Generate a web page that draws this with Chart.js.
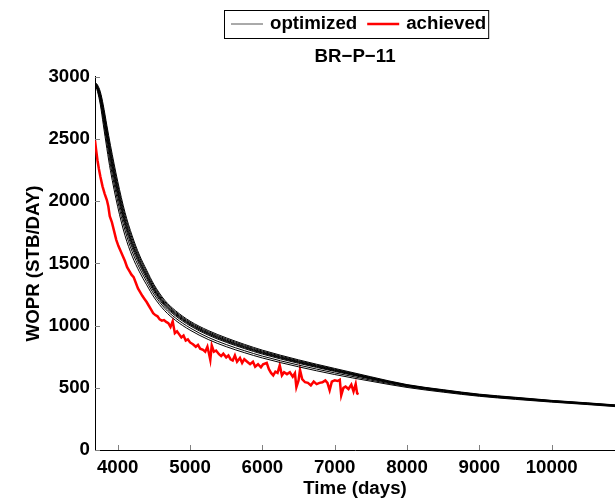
<!DOCTYPE html>
<html>
<head>
<meta charset="utf-8">
<script src="https://cdn.jsdelivr.net/npm/chart.js@4/dist/chart.umd.min.js"></script>
<style>
  body { margin: 0; background: #fff; }
  #wrap { width: 615px; height: 500px; }
</style>
</head>
<body>
<div id="wrap"><canvas id="chart1" width="615" height="500"></canvas></div>
<script>
// time axis for the optimized runs (days)
const optDays = [3686, 3720, 3760, 3800, 3850, 3900, 4000, 4100, 4200, 4300, 4400, 4500, 4650, 4800,
  5000, 5250, 5500, 5750, 6000, 6500, 7000, 7500, 8000, 8500, 9000, 9500, 10000, 10500, 10875];

// WOPR of each optimized run
const opt1 = [2958, 2936, 2880, 2775, 2610, 2450, 2160, 1912, 1722, 1568, 1446, 1332, 1204, 1120, 1036, 961, 902, 850, 803, 725, 656, 589, 526, 485, 449, 424, 399, 379, 363];
const opt2 = [2956, 2929, 2866, 2752, 2585, 2422, 2132, 1888, 1701, 1551, 1431, 1319, 1193, 1110, 1027, 952, 893, 842, 795, 718, 650, 584, 523, 482, 446, 421, 397, 377, 361];
const opt3 = [2954, 2923, 2853, 2733, 2560, 2396, 2106, 1863, 1679, 1533, 1415, 1306, 1182, 1101, 1019, 944, 885, 834, 788, 712, 645, 580, 521, 480, 444, 419, 395, 375, 359];
const opt4 = [2953, 2918, 2843, 2718, 2542, 2376, 2086, 1845, 1663, 1520, 1404, 1296, 1174, 1094, 1013, 938, 879, 829, 783, 708, 641, 577, 519, 478, 443, 418, 394, 374, 358];
const opt5 = [2951, 2912, 2832, 2703, 2525, 2356, 2066, 1827, 1647, 1507, 1393, 1287, 1166, 1087, 1007, 932, 873, 823, 778, 703, 637, 574, 517, 476, 441, 416, 392, 372, 356];
const opt6 = [2949, 2905, 2818, 2684, 2502, 2330, 2040, 1804, 1626, 1490, 1378, 1274, 1156, 1078, 999, 924, 866, 816, 771, 697, 632, 570, 514, 474, 439, 414, 391, 371, 355];
const opt7 = [2946, 2896, 2798, 2655, 2468, 2292, 2002, 1769, 1595, 1464, 1355, 1254, 1140, 1061, 982, 906, 848, 799, 755, 683, 620, 562, 509, 470, 436, 411, 388, 368, 352];
const opt8 = [2942, 2884, 2776, 2620, 2424, 2246, 1956, 1726, 1559, 1433, 1328, 1230, 1120, 1042, 964, 889, 831, 783, 740, 669, 607, 553, 503, 465, 432, 407, 385, 365, 349];
const optRuns = [opt1, opt2, opt3, opt4, opt5, opt6, opt7, opt8];

// achieved (measured) WOPR
const achDays = [3686, 3700, 3720, 3740, 3760, 3790, 3820, 3850, 3870, 3890, 3920, 3950, 3980, 4010, 4040, 4070,
  4100, 4130, 4160, 4190, 4220, 4250, 4280, 4310, 4340, 4370, 4400, 4430, 4460, 4490, 4520, 4550, 4580, 4610,
  4640, 4670, 4700, 4730, 4760, 4790, 4820, 4850, 4880, 4910, 4940, 4970, 5000, 5040, 5080, 5110, 5140, 5180,
  5210, 5240, 5260, 5280, 5300, 5330, 5360, 5400, 5430, 5460, 5500, 5530, 5560, 5590, 5620, 5650, 5690, 5720,
  5750, 5790, 5830, 5870, 5900, 5940, 5980, 6010, 6060, 6090, 6120, 6150, 6180, 6210, 6240, 6270, 6300, 6340,
  6380, 6420, 6450, 6470, 6500, 6520, 6550, 6590, 6630, 6670, 6710, 6750, 6790, 6830, 6870, 6900, 6930, 6960,
  7000, 7040, 7070, 7090, 7120, 7150, 7190, 7230, 7260, 7290, 7310, 7330];
const achWopr = [2490, 2420, 2330, 2260, 2200, 2120, 2060, 2010, 1960, 1880, 1830, 1760, 1690, 1640, 1600, 1560,
  1520, 1470, 1440, 1410, 1390, 1345, 1300, 1270, 1240, 1215, 1190, 1160, 1130, 1100, 1085, 1075, 1050, 1040,
  1045, 1030, 1020, 990, 1035, 940, 955, 930, 905, 920, 880, 890, 865, 850, 830, 845, 815, 805,
  790, 830, 780, 725, 840, 790, 800, 770, 755, 775, 745, 760, 730, 720, 760, 710, 740, 700,
  730, 710, 690, 710, 670, 690, 665, 690, 700, 650, 620, 600, 630, 620, 680, 600, 625, 610,
  625, 590, 617, 505, 560, 645, 570, 545, 540, 520, 550, 530, 540, 545, 560, 540, 480, 550,
  560, 555, 565, 440, 500, 510, 490, 525, 470, 530, 455, 450];

const xTicks = [4000, 5000, 6000, 7000, 8000, 9000, 10000];
const yTicks = [0, 500, 1000, 1500, 2000, 2500, 3000];

const FONT = '"Liberation Sans", Arial, sans-serif';
Chart.defaults.font.family = FONT;
Chart.defaults.font.size = 18.7;
Chart.defaults.font.weight = 'bold';
Chart.defaults.color = '#000';

const datasets = optRuns.map(run => ({
  label: 'optimized',
  data: optDays.map((d, i) => ({ x: d, y: run[i] })),
  borderColor: '#000',
  borderWidth: 1,
  pointRadius: 0,
  cubicInterpolationMode: 'monotone'
}));
datasets.push({
  label: 'achieved',
  data: achDays.map((d, i) => ({ x: d, y: achWopr[i] })),
  borderColor: '#ff0000',
  borderWidth: 2.5,
  pointRadius: 0,
  tension: 0
});

// MATLAB-style inward ticks and the boxed legend above the title
const axesExtras = {
  id: 'axesExtras',
  afterDraw(chart) {
    const { ctx, chartArea, scales: { x, y } } = chart;
    ctx.save();
    ctx.strokeStyle = '#808080';
    ctx.lineWidth = 1;
    ctx.beginPath();
    x.ticks.forEach(t => {
      const px = Math.round(x.getPixelForValue(t.value)) + 0.5;
      ctx.moveTo(px, chartArea.bottom);
      ctx.lineTo(px, chartArea.bottom - 5);
    });
    y.ticks.forEach(t => {
      const py = Math.round(y.getPixelForValue(t.value)) + 0.5;
      ctx.moveTo(chartArea.left, py);
      ctx.lineTo(chartArea.left + 5, py);
    });
    ctx.stroke();

    // legend
    const items = [
      { text: 'optimized', color: '#555', width: 1 },
      { text: 'achieved', color: '#ff0000', width: 2.5 }
    ];
    ctx.font = 'bold 18.7px ' + FONT;
    const sample = 32, gap = 7, spacing = 10;
    let total = 0;
    items.forEach((it, i) => {
      it.w = ctx.measureText(it.text).width;
      total += sample + gap + it.w + (i ? spacing : 0);
    });
    const cx = (chartArea.left + chartArea.right) / 2 + 4;
    const cy = 24;
    let lx = Math.round(cx - total / 2);
    ctx.strokeStyle = '#000';
    ctx.lineWidth = 1;
    ctx.strokeRect(lx - 6.5, 10.5, total + 9, 28);
    ctx.textBaseline = 'middle';
    ctx.textAlign = 'left';
    items.forEach(it => {
      ctx.strokeStyle = it.color;
      ctx.lineWidth = it.width;
      ctx.beginPath();
      ctx.moveTo(lx, cy);
      ctx.lineTo(lx + sample, cy);
      ctx.stroke();
      ctx.fillStyle = '#000';
      ctx.fillText(it.text, lx + sample + gap, cy);
      lx += sample + gap + it.w + spacing;
    });
    ctx.restore();
  }
};

new Chart(document.getElementById('chart1'), {
  type: 'line',
  data: { datasets },
  options: {
    responsive: false,
    animation: false,
    devicePixelRatio: 1,
    layout: { padding: { top: 45, left: 0, right: 0, bottom: 0 } },
    plugins: {
      legend: { display: false },
      title: {
        display: true,
        text: 'BR\u2212P\u221211',
        fullSize: false,
        padding: { top: 0.5, bottom: 9 },
        font: { size: 18.7, weight: 'bold' }
      },
      tooltip: { enabled: false }
    },
    scales: {
      x: {
        type: 'linear',
        min: 3686,
        max: 10875,
        afterFit: s => { s.height = 50; },
        afterBuildTicks: s => { s.ticks = xTicks.map(v => ({ value: v })); },
        ticks: { padding: 6.5, includeBounds: false, callback: v => String(v) },
        grid: { display: false, drawTicks: false, tickLength: 0 },
        border: { display: true, color: '#000', width: 1 },
        title: { display: true, text: 'Time (days)', padding: { top: 0, bottom: 0 }, font: { size: 18.7, weight: 'bold' } }
      },
      y: {
        min: 0,
        max: 3000,
        afterFit: s => { s.width = 95; },
        afterBuildTicks: s => { s.ticks = yTicks.map(v => ({ value: v })); },
        ticks: { padding: 5, includeBounds: false, callback: v => String(v) },
        grid: { display: false, drawTicks: false, tickLength: 0 },
        border: { display: true, color: '#000', width: 1 },
        title: { display: true, text: 'WOPR (STB/DAY)', padding: { top: 23, bottom: 0 }, font: { size: 18.7, weight: 'bold' } }
      }
    }
  },
  plugins: [axesExtras]
});
</script>
</body>
</html>
